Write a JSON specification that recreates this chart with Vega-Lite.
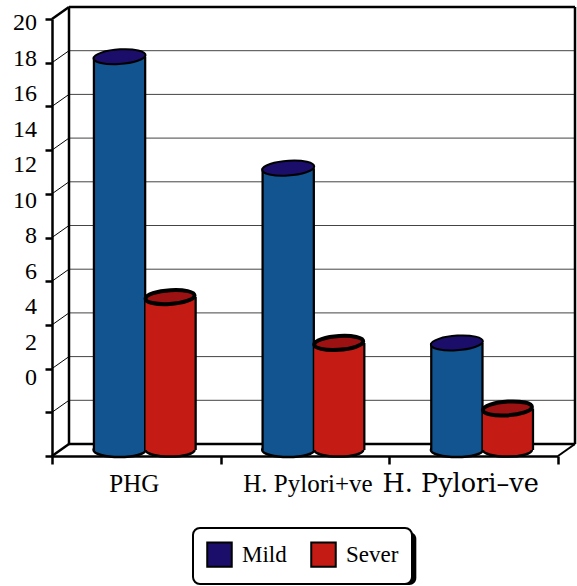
{
"$schema":"https://vega.github.io/schema/vega-lite/v6.json",
"width":506,"height":437,
"autosize":"none",
"padding":{"left":52,"top":19,"right":19,"bottom":130},
"background":"white",
"config":{"view":{"stroke":null},"text":{"font":"Liberation Serif"}},
"datasets":{
"bars":[
{"group":"PHG","series":"Mild","value":18},
{"group":"PHG","series":"Sever","value":7},
{"group":"H. Pylori+ve","series":"Mild","value":12.9},
{"group":"H. Pylori+ve","series":"Sever","value":4.9},
{"group":"H. Pylori–ve","series":"Mild","value":4.9},
{"group":"H. Pylori–ve","series":"Sever","value":1.9}
],
"ticks":[{"tick":0},{"tick":2},{"tick":4},{"tick":6},{"tick":8},{"tick":10},{"tick":12},{"tick":14},{"tick":16},{"tick":18},{"tick":20}]
},
"layer":[
{"data":{"name":"ticks"},"transform":[{"filter":"datum.tick>0 && datum.tick<20"}],
"mark":{"type":"rule","color":"#444444","strokeWidth":1,"xOffset":17,"x2Offset":17,"yOffset":-12},
"encoding":{
"x":{"datum":0,"type":"quantitative","scale":{"domain":[0,3]},
"axis":{"values":[0,1,2,3],"labels":false,"title":null,"grid":false,"domainColor":"black","domainWidth":2.5,"tickColor":"black","tickWidth":2.5,"tickSize":8}},
"x2":{"datum":3},
"y":{"field":"tick","type":"quantitative","scale":{"domain":[0,20]},
"axis":{"values":[0,2,4,6,8,10,12,14,16,18,20],"labels":false,"title":null,"grid":false,"domainColor":"black","domainWidth":2.5,"tickColor":"black","tickWidth":2.5,"tickSize":7}}}},
{
"layer":[
{"data":{"values":[{"part":"legend shadow"}]},"mark":{"type":"rect","fill":"black","cornerRadius":7},
"encoding":{
"x":{"datum":0.86,"type":"quantitative","scale":{"domain":[0,3]},"axis":null},
"x2":{"datum":2.16},
"y":{"datum":-3.48,"type":"quantitative","scale":{"domain":[0,20]},"axis":null},
"y2":{"datum":-5.9}}},
{"data":{"name":"ticks"},"transform":[{"filter":"datum.tick==0 || datum.tick==20"}],
"mark":{"type":"rule","color":"black","strokeWidth":2.5,"xOffset":17,"x2Offset":17,"yOffset":-12},
"encoding":{
"x":{"datum":0,"type":"quantitative","scale":{"domain":[0,3]},"axis":null},
"x2":{"datum":3},
"y":{"field":"tick","type":"quantitative","scale":{"domain":[0,20]},"axis":null}}},
{"data":{"name":"ticks"},"transform":[{"filter":"datum.tick>0 && datum.tick<20"}],
"mark":{"type":"rule","color":"black","strokeWidth":1,"x2Offset":17,"y2Offset":-12},
"encoding":{
"x":{"datum":0,"type":"quantitative","scale":{"domain":[0,3]},"axis":null},
"x2":{"datum":0},
"y":{"field":"tick","type":"quantitative","scale":{"domain":[0,20]},"axis":null},
"y2":{"field":"tick"}}},
{"data":{"name":"ticks"},"transform":[{"filter":"datum.tick==0 || datum.tick==20"}],
"mark":{"type":"rule","color":"black","strokeWidth":2.5,"x2Offset":17,"y2Offset":-12},
"encoding":{
"x":{"datum":0,"type":"quantitative","scale":{"domain":[0,3]},"axis":null},
"x2":{"datum":0},
"y":{"field":"tick","type":"quantitative","scale":{"domain":[0,20]},"axis":null},
"y2":{"field":"tick"}}},
{"data":{"values":[{"tick":0}]},
"mark":{"type":"rule","color":"black","strokeWidth":2,"x2Offset":17,"y2Offset":-12},
"encoding":{
"x":{"datum":3,"type":"quantitative","scale":{"domain":[0,3]},"axis":null},
"x2":{"datum":3},
"y":{"field":"tick","type":"quantitative","scale":{"domain":[0,20]},"axis":null},
"y2":{"field":"tick"}}},
{"data":{"values":[{"wall":"back left"}]},
"mark":{"type":"rule","color":"black","strokeWidth":2.5,"xOffset":17,"yOffset":-12,"y2Offset":-12},
"encoding":{
"x":{"datum":0,"type":"quantitative","scale":{"domain":[0,3]},"axis":null},
"y":{"datum":0,"type":"quantitative","scale":{"domain":[0,20]},"axis":null},
"y2":{"datum":20}}},
{"data":{"values":[{"wall":"back right"}]},
"mark":{"type":"rule","color":"black","strokeWidth":2.5,"xOffset":17,"yOffset":-12,"y2Offset":-12},
"encoding":{
"x":{"datum":3,"type":"quantitative","scale":{"domain":[0,3]},"axis":null},
"y":{"datum":0,"type":"quantitative","scale":{"domain":[0,20]},"axis":null},
"y2":{"datum":20}}}
]
},
{
"data":{"name":"bars"},
"encoding":{
"x":{"field":"group","type":"nominal","sort":null,"scale":{"paddingInner":0,"paddingOuter":0},"axis":null}
},
"layer":[
{"mark":{"type":"point","filled":true,"opacity":1,"shape":"M-1,0 A1,0.27,0,1,1,1,0 A1,0.27,0,1,1,-1,0 Z","stroke":"black","strokeWidth":2.5,"yOffset":-6},
"encoding":{
"xOffset":{"field":"series","type":"nominal","sort":null,"scale":{"paddingInner":0,"paddingOuter":0.67,"align":0.625}},
"y":{"datum":0,"type":"quantitative","scale":{"domain":[0,20]},"axis":null},
"size":{"condition":{"test":"datum.series==='Mild'","value":2704},"value":2401},
"fill":{"condition":{"test":"datum.series==='Mild'","value":"#11548f"},"value":"#c41c14"}}},
{"mark":{"type":"bar","color":"black","width":53.5,"yOffset":-6,"y2Offset":-6},
"encoding":{
"xOffset":{"field":"series","type":"nominal","sort":null,"scale":{"paddingInner":0,"paddingOuter":0.67,"align":0.625}},
"y":{"field":"value","type":"quantitative","scale":{"domain":[0,20]},"axis":null},
"y2":{"datum":0}}},
{"mark":{"type":"bar","width":49,"yOffset":-6,"y2Offset":-6},
"encoding":{
"xOffset":{"field":"series","type":"nominal","sort":null,"scale":{"paddingInner":0,"paddingOuter":0.67,"align":0.625}},
"y":{"field":"value","type":"quantitative","scale":{"domain":[0,20]},"axis":null},
"y2":{"datum":0},
"fill":{"condition":{"test":"datum.series==='Mild'","value":"#11548f"},"value":"#c41c14"}}},
{"mark":{"type":"point","filled":true,"opacity":1,"shape":"M-1,0.06 A1,0.28,-4,1,1,1,-0.06 A1,0.28,-4,1,1,-1,0.06 Z","stroke":"black","yOffset":-6},
"encoding":{
"xOffset":{"field":"series","type":"nominal","sort":null,"scale":{"paddingInner":0,"paddingOuter":0.67,"align":0.625}},
"y":{"field":"value","type":"quantitative","scale":{"domain":[0,20]},"axis":null},
"size":{"condition":{"test":"datum.series==='Mild'","value":2704},"value":2401},
"strokeWidth":{"condition":{"test":"datum.series==='Mild'","value":2},"value":4},
"fill":{"condition":{"test":"datum.series==='Mild'","value":"#1b0e6b"},"value":"#9c1212"}}},
{"mark":{"type":"point","filled":true,"opacity":1,"shape":"square","size":0},
"encoding":{
"xOffset":{"field":"series","type":"nominal","sort":null,"scale":{"paddingInner":0,"paddingOuter":0.67,"align":0.625}},
"y":{"field":"value","type":"quantitative","scale":{"domain":[0,20]},"axis":null},
"color":{"field":"series","type":"nominal","sort":null,
"scale":{"domain":["Mild","Sever"],"range":["#1b0e6b","#c41c14"]},
"legend":{"orient":"none","legendX":141,"legendY":509,"direction":"horizontal","title":null,
"fillColor":"white","strokeColor":"black","cornerRadius":7,"padding":13,
"symbolType":"square","symbolSize":600,"symbolStrokeColor":"black","symbolStrokeWidth":2,
"symbolOpacity":1,"labelFont":"Liberation Serif","labelFontSize":23,"labelColor":"black","labelOffset":9,"columnPadding":20,
"encode":{"legend":{"update":{"strokeWidth":{"value":2}}}}}}}},
{"transform":[{"filter":"datum.group==='PHG' && datum.series==='Mild'"}],
"mark":{"type":"text","fontSize":25,"font":"Liberation Serif","color":"black","baseline":"middle","yOffset":28,"xOffset":-2},
"encoding":{
"y":{"datum":0,"type":"quantitative","scale":{"domain":[0,20]},"axis":null},
"text":{"field":"group"}}},
{"transform":[{"filter":"datum.group==='H. Pylori+ve' && datum.series==='Mild'"}],
"mark":{"type":"text","fontSize":25,"font":"Liberation Serif","color":"black","baseline":"middle","yOffset":28,"xOffset":3},
"encoding":{
"y":{"datum":0,"type":"quantitative","scale":{"domain":[0,20]},"axis":null},
"text":{"field":"group"}}},
{"transform":[{"filter":"datum.group==='H. Pylori–ve' && datum.series==='Mild'"}],
"mark":{"type":"text","fontSize":25.5,"font":"DejaVu Serif","color":"black","baseline":"middle","yOffset":28,"xOffset":-13},
"encoding":{
"y":{"datum":0,"type":"quantitative","scale":{"domain":[0,20]},"axis":null},
"text":{"field":"group"}}}
]
},
{
"data":{"name":"ticks"},
"mark":{"type":"text","fontSize":24,"font":"Liberation Serif","align":"right","baseline":"middle","color":"black","xOffset":-15},
"encoding":{
"x":{"datum":0,"type":"quantitative","scale":{"domain":[0,3]},"axis":null},
"y":{"field":"tick","type":"quantitative","scale":{"domain":[0,20],"range":[359,4]},"axis":null},
"text":{"field":"tick","type":"quantitative"}}
}
],
"resolve":{"scale":{"x":"independent","y":"independent"}}
}
